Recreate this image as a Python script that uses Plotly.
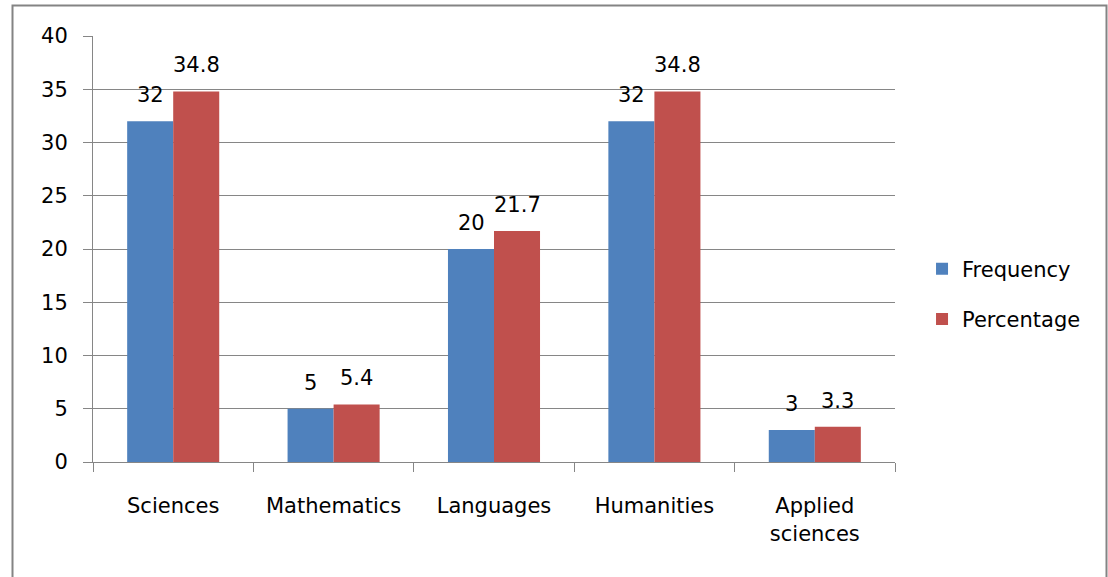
import plotly.graph_objects as go

categories = ["Sciences", "Mathematics", "Languages", "Humanities", "Applied<br>sciences"]
frequency = [32, 5, 20, 32, 3]
percentage = [34.8, 5.4, 21.7, 34.8, 3.3]
y_ticks = [0, 5, 10, 15, 20, 25, 30, 35, 40]

BLUE = "#4F81BD"
RED = "#C0504D"
GRID = "#868686"
FONT = dict(family="DejaVu Sans", size=21, color="#000000")

fig = go.Figure()
fig.add_trace(go.Bar(name="Frequency", x=categories, y=frequency, marker_color=BLUE,
                     marker_line_width=0, legendgroup="f"))
fig.add_trace(go.Bar(name="Percentage", x=categories, y=percentage, marker_color=RED,
                     marker_line_width=0, legendgroup="p"))

# value labels above bars
half = 23
for c, v in zip(categories, frequency):
    fig.add_annotation(x=c, y=v, text=str(v), xref="x", yref="y", showarrow=False,
                       xshift=-half, yshift=12, yanchor="bottom", font=FONT)
for c, v in zip(categories, percentage):
    fig.add_annotation(x=c, y=v, text=str(v), xref="x", yref="y", showarrow=False,
                       xshift=half, yshift=12, yanchor="bottom", font=FONT)

# outer chart border
fig.add_shape(type="rect", xref="paper", yref="paper",
              x0=(12.5 - 93) / 802, x1=(1106.5 - 93) / 802,
              y0=(462 - 600) / 426, y1=(462 - 5.5) / 426,
              line=dict(color="#848484", width=2), fillcolor="rgba(0,0,0,0)", layer="below")

fig.update_layout(
    width=1108, height=577,
    margin=dict(l=93, r=213, t=36, b=115),
    paper_bgcolor="white", plot_bgcolor="white",
    barmode="group", bargap=0.426, bargroupgap=0,
    font=FONT,
    showlegend=True,
    legend=dict(x=1.0337, xanchor="left", y=0.394, yanchor="middle",
                traceorder="grouped", tracegroupgap=20, font=FONT,
                bgcolor="rgba(0,0,0,0)"),
    xaxis=dict(type="category", showline=True, linecolor=GRID, linewidth=1,
               ticks="outside", tickson="boundaries", ticklen=9, tickcolor=GRID,
               showgrid=False, ticklabelstandoff=25, tickfont=FONT),
    yaxis=dict(range=[0, 40], tickvals=y_ticks, showline=True, linecolor=GRID, linewidth=1,
               showgrid=True, gridcolor=GRID, gridwidth=1, zeroline=False,
               ticks="outside", ticklen=9, tickcolor=GRID, ticklabelstandoff=11,
               tickfont=FONT),
)

fig.write_html("out.html", config={"displayModeBar": False},
               post_script="document.body.style.margin='0';document.body.style.overflow='hidden';")
